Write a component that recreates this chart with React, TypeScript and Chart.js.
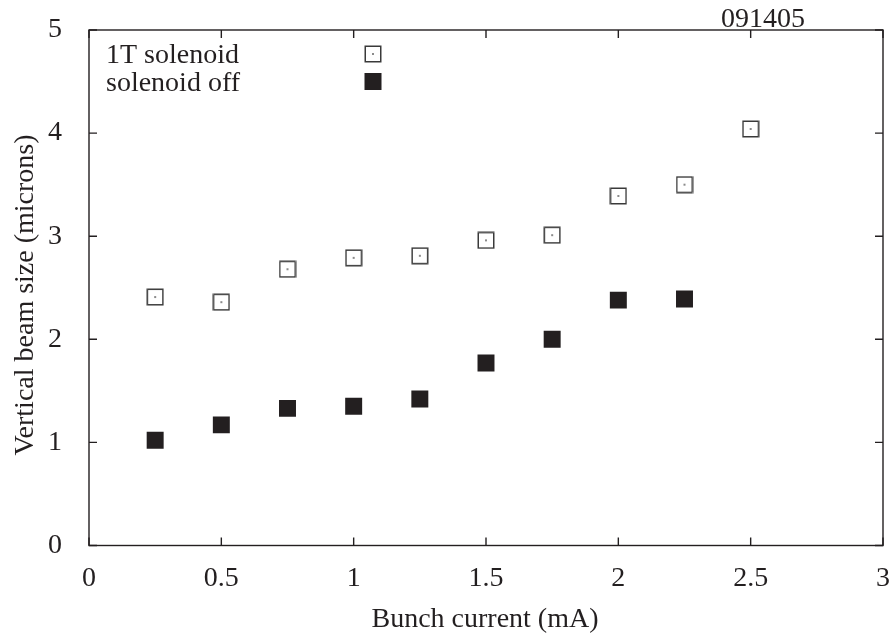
import React, { useEffect, useRef } from "react";
import { Chart, registerables } from "chart.js";

Chart.register(...registerables);

const currents = [0.25, 0.5, 0.75, 1.0, 1.25, 1.5, 1.75, 2.0, 2.25, 2.5];
const solenoidOn = [2.41, 2.36, 2.68, 2.79, 2.81, 2.96, 3.01, 3.39, 3.5, 4.04];
const currentsOff = [0.25, 0.5, 0.75, 1.0, 1.25, 1.5, 1.75, 2.0, 2.25];
const solenoidOff = [1.02, 1.17, 1.33, 1.35, 1.42, 1.77, 2.0, 2.38, 2.39];
const xTicks = [0, 0.5, 1, 1.5, 2, 2.5, 3];
const yTicks = [0, 1, 2, 3, 4, 5];
const seriesNames = ["1T solenoid", "solenoid off"];
const xTitle = "Bunch current (mA)";
const yTitle = "Vertical beam size (microns)";
const stamp = "091405";

const INK = "#231f20";
const FONT = "Liberation Serif, 'Times New Roman', serif";
const FS = 28;

function makeOpenSquare(): HTMLCanvasElement {
  const c = document.createElement("canvas");
  c.width = 18;
  c.height = 18;
  const g = c.getContext("2d")!;
  g.strokeStyle = "#3a3a3a";
  g.lineWidth = 1.5;
  g.strokeRect(1.25, 1.25, 15.5, 15.5);
  g.fillStyle = "#333";
  g.fillRect(8.25, 8.25, 1.5, 1.5);
  return c;
}

export default function App() {
  const ref = useRef<HTMLCanvasElement>(null);
  useEffect(() => {
    const openSq = makeOpenSquare();
    const decor = {
      id: "decor",
      afterDraw(chart: any) {
        const { ctx, chartArea: a, scales } = chart;
        const xs = scales.x;
        const ys = scales.y;
        ctx.save();
        ctx.strokeStyle = INK;
        ctx.lineWidth = 1.4;
        ctx.strokeRect(a.left, a.top, a.right - a.left, a.bottom - a.top);
        const tl = 8;
        ctx.beginPath();
        xTicks.forEach((t) => {
          const px = xs.getPixelForValue(t);
          ctx.moveTo(px, a.bottom);
          ctx.lineTo(px, a.bottom - tl);
          ctx.moveTo(px, a.top);
          ctx.lineTo(px, a.top + tl);
        });
        yTicks.forEach((t) => {
          const py = ys.getPixelForValue(t);
          ctx.moveTo(a.left, py);
          ctx.lineTo(a.left + tl, py);
          ctx.moveTo(a.right, py);
          ctx.lineTo(a.right - tl, py);
        });
        ctx.stroke();

        ctx.fillStyle = INK;
        ctx.font = `${FS}px ${FONT}`;
        ctx.textAlign = "center";
        ctx.textBaseline = "alphabetic";
        ctx.fillText(xTitle, 485, 627);
        ctx.save();
        ctx.translate(33, 295);
        ctx.rotate(-Math.PI / 2);
        ctx.fillText(yTitle, 0, 0);
        ctx.restore();
        ctx.fillText(stamp, 763, 27);
        ctx.textAlign = "left";
        ctx.fillText(seriesNames[0], 106, 63);
        ctx.fillText(seriesNames[1], 106, 91);
        ctx.drawImage(openSq, 373 - 9, 54 - 9);
        ctx.fillStyle = INK;
        ctx.fillRect(373 - 8.5, 81.5 - 8.5, 17, 17);
        ctx.restore();
      },
    };

    const chart = new Chart(ref.current!, {
      type: "scatter",
      data: {
        datasets: [
          {
            label: seriesNames[0],
            data: currents.map((x, i) => ({ x, y: solenoidOn[i] })),
            pointStyle: openSq as any,
            pointRadius: 9,
            showLine: false,
          },
          {
            label: seriesNames[1],
            data: currentsOff.map((x, i) => ({ x, y: solenoidOff[i] })),
            pointStyle: "rect",
            pointRadius: 12,
            pointBorderWidth: 0,
            backgroundColor: INK,
            borderColor: INK,
            showLine: false,
          },
        ],
      },
      options: {
        responsive: false,
        animation: false,
        layout: { padding: { top: 30, right: 9.5, left: 0, bottom: 0 } },
        plugins: { legend: { display: false }, tooltip: { enabled: false } },
        scales: {
          x: {
            type: "linear",
            min: 0,
            max: 3,
            afterFit: (s: any) => {
              s.height = 89.5;
              s.paddingLeft = 0;
              s.paddingRight = 0;
            },
            afterBuildTicks: (s: any) => {
              s.ticks = xTicks.map((v) => ({ value: v }));
            },
            grid: { display: false },
            border: { display: false },
            ticks: {
              autoSkip: false,
              maxRotation: 0,
              padding: 8,
              color: INK,
              font: { family: FONT, size: FS },
              callback: (v: any) => String(v),
            },
          },
          y: {
            type: "linear",
            min: 0,
            max: 5,
            afterFit: (s: any) => {
              s.width = 89;
              s.paddingTop = 0;
              s.paddingBottom = 0;
            },
            afterBuildTicks: (s: any) => {
              s.ticks = yTicks.map((v) => ({ value: v }));
            },
            grid: { display: false },
            border: { display: false },
            ticks: {
              autoSkip: false,
              padding: 19,
              color: INK,
              font: { family: FONT, size: FS },
              callback: (v: any) => String(v),
            },
          },
        },
      },
      plugins: [decor],
    });
    return () => chart.destroy();
  }, []);

  return (
    <div style={{ position: "fixed", left: 0, top: 0, width: 895, height: 635, background: "#fff" }}>
      <canvas ref={ref} width={895} height={635} style={{ display: "block" }} />
    </div>
  );
}
